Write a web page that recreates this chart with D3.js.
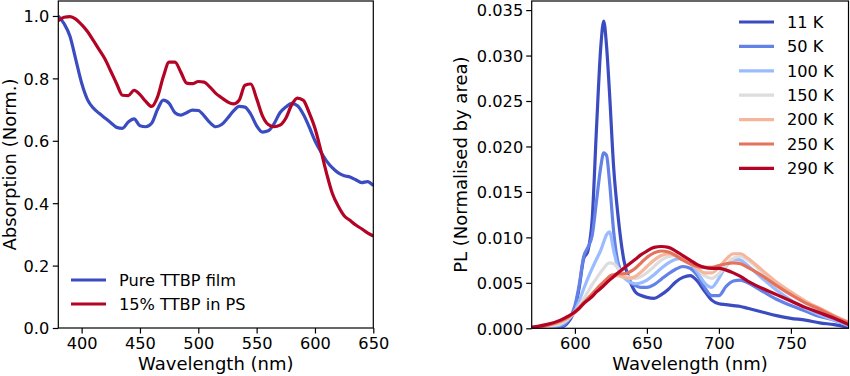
<!DOCTYPE html>
<html>
<head>
<meta charset="utf-8">
<script src="https://cdn.jsdelivr.net/npm/d3@7"></script>
<style>
  body { margin: 0; background: #fff; }
  svg { display: block; }
  text { font-family: "DejaVu Sans", sans-serif; fill: #000; }
</style>
</head>
<body>
<svg id="chart" width="850" height="376"></svg>
<script>
// ---- absorption panel (left) ----
const absWl = [380, 385, 390, 395, 400, 405, 410, 415, 420, 425, 430, 435, 440, 445, 450,
  455, 460, 465, 470, 475, 480, 485, 490, 495, 500, 505, 510, 515, 520, 525, 530, 535,
  540, 545, 550, 555, 560, 565, 570, 575, 580, 585, 590, 595, 600, 605, 610, 615, 620,
  625, 630, 635, 640, 645, 650];
const absPure = [1.0, 0.975, 0.935, 0.86, 0.785, 0.732, 0.705, 0.688, 0.673, 0.658, 0.643,
  0.64, 0.66, 0.67, 0.648, 0.645, 0.656, 0.7, 0.73, 0.72, 0.69, 0.682, 0.69, 0.698, 0.697,
  0.68, 0.658, 0.645, 0.652, 0.672, 0.695, 0.71, 0.708, 0.685, 0.648, 0.628, 0.632, 0.655,
  0.69, 0.708, 0.72, 0.712, 0.685, 0.645, 0.6, 0.565, 0.535, 0.513, 0.497, 0.488, 0.484,
  0.475, 0.466, 0.469, 0.456];
const absPS = [0.985, 0.996, 0.998, 0.99, 0.972, 0.95, 0.922, 0.892, 0.862, 0.823, 0.783,
  0.746, 0.745, 0.762, 0.748, 0.726, 0.71, 0.74, 0.805, 0.852, 0.852, 0.82, 0.785, 0.783,
  0.79, 0.788, 0.772, 0.752, 0.738, 0.725, 0.718, 0.73, 0.778, 0.782, 0.735, 0.68, 0.652,
  0.645, 0.65, 0.672, 0.715, 0.737, 0.73, 0.69, 0.64, 0.57, 0.495, 0.43, 0.39, 0.36, 0.345,
  0.33, 0.318, 0.305, 0.295];
const absLabels = ["Pure TTBP film", "15% TTBP in PS"];
const absColors = ["#3b4cc0", "#b40426"];
const absXTicks = [400, 450, 500, 550, 600, 650];
const absYTicks = [0, 0.2, 0.4, 0.6, 0.8, 1.0];

// ---- PL panel (right) ----
const plWl = [570, 580, 590, 595, 600, 603, 606, 609, 612, 615, 618, 620, 622, 624, 627,
  630, 634, 638, 642, 646, 650, 655, 660, 665, 670, 675, 680, 685, 690, 695, 700, 705,
  710, 715, 720, 730, 740, 750, 760, 770, 780, 790];
const pl11 = [0, 0, 0.0001, 0.0006, 0.0022, 0.0045, 0.0076, 0.0085, 0.012, 0.022, 0.031,
  0.0338, 0.031, 0.026, 0.0175, 0.0123, 0.0075, 0.0053, 0.004, 0.0036, 0.0034, 0.0033,
  0.0037, 0.0043, 0.0051, 0.0056, 0.0058, 0.0052, 0.0041, 0.0031, 0.0027, 0.0026, 0.0025,
  0.0024, 0.0022, 0.0018, 0.0014, 0.0011, 0.0009, 0.0006, 0.0004, 0.0001];
const pl50 = [0, 0, 0.0002, 0.0008, 0.0025, 0.0048, 0.0078, 0.0089, 0.0102, 0.014, 0.0178,
  0.0193, 0.019, 0.0162, 0.0105, 0.0072, 0.0058, 0.0051, 0.0047, 0.0045, 0.0045, 0.0048,
  0.0054, 0.006, 0.0065, 0.0068, 0.0066, 0.0058, 0.0045, 0.0036, 0.0036, 0.0046, 0.0052,
  0.0053, 0.005, 0.0041, 0.0032, 0.0025, 0.0019, 0.0013, 0.0009, 0.0003];
const pl100 = [0, 0.0001, 0.0004, 0.0009, 0.0019, 0.003, 0.0043, 0.0055, 0.0066, 0.0076,
  0.0086, 0.0095, 0.0103, 0.0106, 0.0085, 0.0066, 0.0056, 0.0051, 0.0049, 0.005, 0.0053,
  0.0059, 0.0066, 0.0072, 0.0076, 0.0077, 0.0072, 0.0062, 0.005, 0.0045, 0.0055, 0.0068,
  0.0076, 0.0075, 0.0069, 0.0055, 0.0042, 0.0031, 0.0022, 0.0015, 0.0009, 0.0003];
const pl150 = [0, 0.0002, 0.0005, 0.001, 0.0018, 0.0025, 0.0032, 0.004, 0.0048, 0.0055,
  0.0062, 0.0066, 0.007, 0.0072, 0.0071, 0.0066, 0.006, 0.0056, 0.0055, 0.0057, 0.0061,
  0.0068, 0.0075, 0.0079, 0.008, 0.0077, 0.0073, 0.0066, 0.0058, 0.0055, 0.006, 0.0069,
  0.0077, 0.0079, 0.0075, 0.0062, 0.0049, 0.0038, 0.0028, 0.002, 0.0012, 0.0005];
const pl200 = [0.0001, 0.0003, 0.0007, 0.0011, 0.0017, 0.0022, 0.0027, 0.0032, 0.0037,
  0.0042, 0.0047, 0.005, 0.0053, 0.0056, 0.0058, 0.0058, 0.0056, 0.0055, 0.0057, 0.0062,
  0.0068, 0.0075, 0.008, 0.0082, 0.008, 0.0076, 0.0071, 0.0066, 0.0061, 0.0061, 0.0067,
  0.0076, 0.0082, 0.0082, 0.0077, 0.0064, 0.0051, 0.004, 0.003, 0.0022, 0.0014, 0.0007];
const pl250 = [0.0001, 0.0003, 0.0008, 0.0012, 0.0018, 0.0023, 0.0028, 0.0033, 0.0038,
  0.0043, 0.0048, 0.0051, 0.0054, 0.0057, 0.0059, 0.006, 0.006, 0.0062, 0.0066, 0.0072,
  0.0078, 0.0083, 0.0085, 0.0084, 0.008, 0.0075, 0.0071, 0.0068, 0.0067, 0.0067, 0.0069,
  0.0071, 0.0072, 0.0071, 0.0067, 0.0058, 0.0047, 0.0037, 0.0028, 0.0021, 0.0013, 0.0006];
const pl290 = [0.0001, 0.0004, 0.0009, 0.0013, 0.0018, 0.0022, 0.0027, 0.0031, 0.0035,
  0.004, 0.0044, 0.0047, 0.005, 0.0053, 0.0057, 0.0061, 0.0066, 0.0071, 0.0076, 0.0081,
  0.0085, 0.0089, 0.009, 0.0089, 0.0085, 0.008, 0.0075, 0.007, 0.0067, 0.0066, 0.0066,
  0.0064, 0.0061, 0.0057, 0.0052, 0.0044, 0.0037, 0.003, 0.0023, 0.0017, 0.0011, 0.0004];
const plLabels = ["11 K", "50 K", "100 K", "150 K", "200 K", "250 K", "290 K"];
const plColors = ["#3b4cc0", "#6282e8", "#9abbfd", "#dddddd", "#f5b69c", "#e5735c", "#b40426"];
const plXTicks = [600, 650, 700, 750];
const plYTicks = [0, 0.005, 0.01, 0.015, 0.02, 0.025, 0.03, 0.035];

const svg = d3.select("#chart");
const TICK_FS = 16.2, LABEL_FS = 18, LINE_W = 3.2;

function panel(p) {
    const g = svg.append("g");
    const [x0, x1] = p.x.range(), [y0, y1] = p.y.range();

    svg.append("clipPath").attr("id", p.id).append("rect")
        .attr("x", x0).attr("y", y1).attr("width", x1 - x0).attr("height", y0 - y1);

    const line = d3.line()
        .x((d, i) => p.x(p.wl[i])).y(d => p.y(d))
        .curve(d3.curveMonotoneX);
    g.append("g").attr("clip-path", `url(#${p.id})`)
        .selectAll("path").data(p.series).join("path")
        .attr("fill", "none")
        .attr("stroke", (d, i) => p.colors[i])
        .attr("stroke-width", LINE_W)
        .attr("stroke-linejoin", "round")
        .attr("d", line);

    g.append("g").attr("transform", `translate(0,${y0})`)
        .call(d3.axisBottom(p.x).tickValues(p.xTicks).tickFormat(d3.format("d"))
            .tickSize(5.5).tickPadding(4))
        .call(a => a.select(".domain").remove())
        .call(a => a.selectAll("line").attr("stroke", "#000").attr("stroke-width", 1.2))
        .call(a => a.selectAll("text").attr("font-size", TICK_FS)
            .attr("font-family", "DejaVu Sans").attr("fill", "#000"));

    g.append("g").attr("transform", `translate(${x0},0)`)
        .call(d3.axisLeft(p.y).tickValues(p.yTicks).tickFormat(d3.format(p.yFmt))
            .tickSize(5.5).tickPadding(p.yPad))
        .call(a => a.select(".domain").remove())
        .call(a => a.selectAll("line").attr("stroke", "#000").attr("stroke-width", 1.2))
        .call(a => a.selectAll("text").attr("font-size", TICK_FS).attr("dy", "0.36em")
            .attr("font-family", "DejaVu Sans").attr("fill", "#000"));

    g.append("rect")
        .attr("x", x0).attr("y", y1).attr("width", x1 - x0).attr("height", y0 - y1)
        .attr("fill", "none").attr("stroke", "#000").attr("stroke-width", 1.2);

    g.append("text").attr("font-size", LABEL_FS).attr("text-anchor", "middle")
        .attr("x", (x0 + x1) / 2).attr("y", 370)
        .text("Wavelength (nm)");
    g.append("text").attr("font-size", LABEL_FS).attr("text-anchor", "middle")
        .attr("transform", `translate(${p.yLabelX},${(y0 + y1) / 2}) rotate(-90)`)
        .text(p.yLabel);

    const leg = g.append("g");
    p.labels.forEach((lab, i) => {
        const ly = p.legY + i * p.legStep;
        leg.append("line")
            .attr("x1", p.legX).attr("x2", p.legX + 35).attr("y1", ly).attr("y2", ly)
            .attr("stroke", p.colors[i]).attr("stroke-width", LINE_W);
        leg.append("text").attr("x", p.legX + 48).attr("y", ly).attr("dy", "0.36em")
            .attr("font-size", TICK_FS).text(lab);
    });
}

panel({
    id: "clipAbs",
    x: d3.scaleLinear().domain([380, 650]).range([58.3, 373.3]),
    y: d3.scaleLinear().domain([0, 1.048]).range([328, 1]),
    wl: absWl, series: [absPure, absPS], colors: absColors, labels: absLabels,
    xTicks: absXTicks, yTicks: absYTicks, yFmt: ".1f", yPad: 3.5,
    yLabel: "Absorption (Norm.)", yLabelX: 16,
    legX: 71, legY: 280, legStep: 24
});

panel({
    id: "clipPL",
    x: d3.scaleLinear().domain([570, 790]).range([531.7, 848.5]),
    y: d3.scaleLinear().domain([0, 0.036]).range([328.3, 1]),
    wl: plWl, series: [pl11, pl50, pl100, pl150, pl200, pl250, pl290],
    colors: plColors, labels: plLabels,
    xTicks: plXTicks, yTicks: plYTicks, yFmt: ".3f", yPad: 3,
    yLabel: "PL (Normalised by area)", yLabelX: 467,
    legX: 739, legY: 22, legStep: 24.4
});
</script>
</body>
</html>
